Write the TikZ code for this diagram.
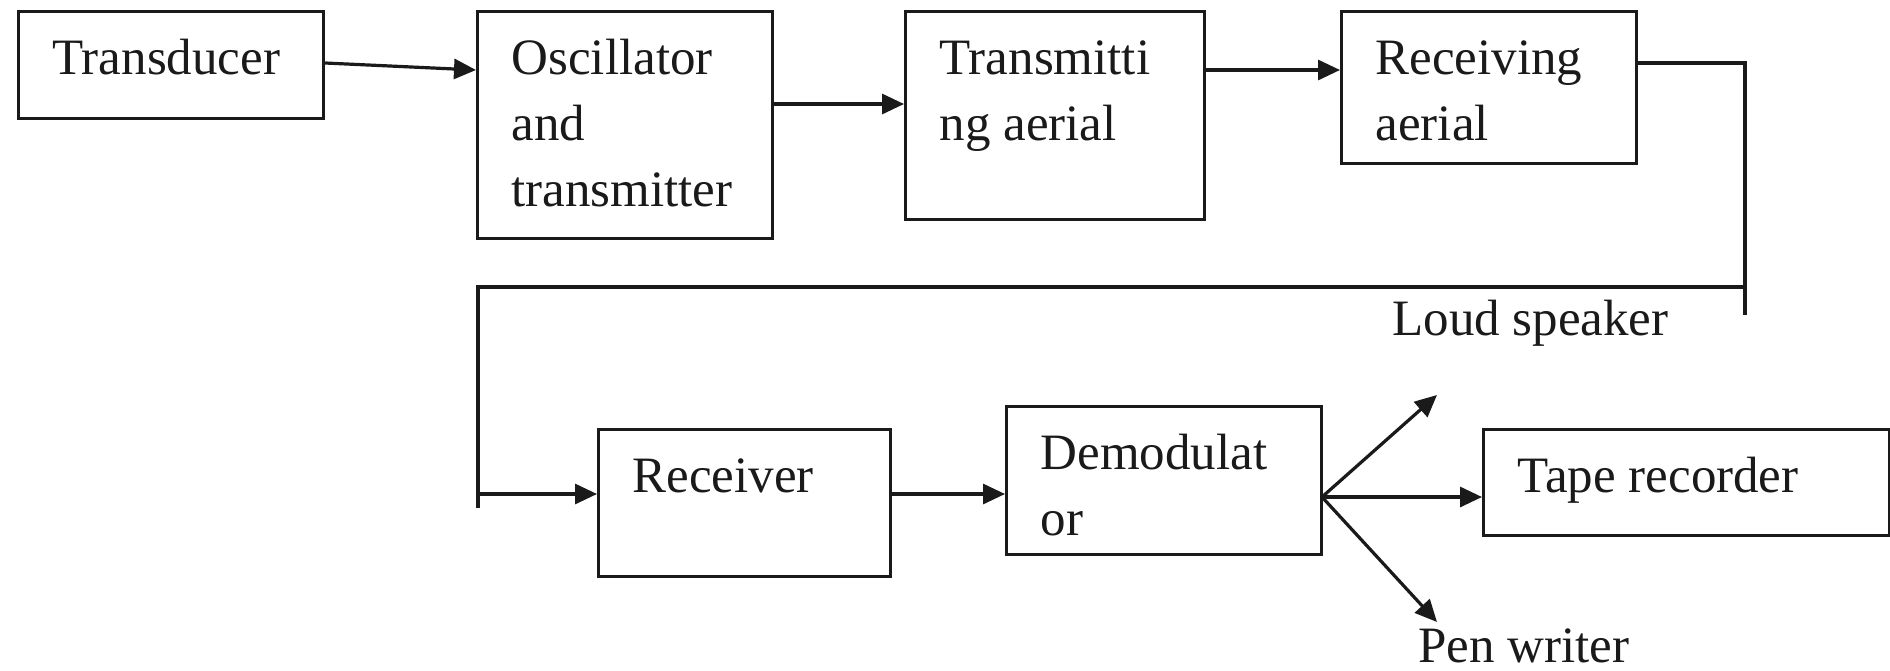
\documentclass[tikz,border=0pt]{standalone}
\usepackage{fontspec}
\setmainfont{Liberation Serif}
\usetikzlibrary{arrows.meta,calc}
\definecolor{ink}{HTML}{1A1A1A}

% block label: fixed-size box, text set from the top-left corner
\newcommand\blocktext[3]{\parbox[c][#1][t]{#2}{\vspace*{8.5pt}\raggedright\leftskip=17pt\strut#3}}

\begin{document}
\begin{tikzpicture}[x=0.5pt,y=-0.5pt,
  font=\fontsize{25.5}{33}\selectfont,
  blk/.style={draw=ink, line width=1.6pt, inner sep=0pt, anchor=north west, text=ink},
  wire/.style={draw=ink, line width=1.6pt},
  arr/.style={wire, -{Triangle[length=11pt,width=10pt]}},
  lbl/.style={anchor=base west, inner sep=0pt, text=ink}]

\path[fill=white] (0,0) rectangle (1890,670);
\useasboundingbox (0,0) rectangle (1890,670);

% transmitting chain
\node[blk] (tdx) at (17,10) {\blocktext{53.5pt}{152.5pt}{Transducer}};
\node[blk] (osc) at (476,10) {\blocktext{113.5pt}{147.5pt}{Oscillator\\and\\transmitter}};
\node[blk] (txa) at (904,10) {\blocktext{104pt}{149.5pt}{Transmitti\\ng aerial}};
\node[blk] (rxa) at (1340,10) {\blocktext{76pt}{147.5pt}{Receiving\\aerial}};

% receiving chain
\node[blk] (rcv) at (597,428) {\blocktext{73.5pt}{146pt}{Receiver}};
\node[blk] (dem) at (1005,405) {\blocktext{74pt}{157.5pt}{Demodulat\\or}};
\node[blk] (tape) at (1482,428) {\blocktext{53pt}{203pt}{Tape recorder}};

% free labels
\node[lbl] (lsp) at (1392,335) {Loud speaker};
\node[lbl, text depth=0pt] (pen) at (1418,662) {Pen writer};

% connectors, top row
\draw[arr] ($(tdx.north east)+(0,53)$) -- ($(osc.north west)+(0,60)$);
\draw[arr] ($(osc.north east)+(0,94)$) -- ($(txa.north west)+(0,94)$);
\draw[arr] ($(txa.north east)+(0,60)$) -- ($(rxa.north west)+(0,60)$);

% link from the receiving aerial down to the receiver
\coordinate (c1) at (1745,63);
\coordinate (c2) at (1745,315);
\coordinate (c3) at (1745,287);
\coordinate (c4) at (478,287);
\coordinate (c5) at (478,508);
\coordinate (c6) at (478,494);
\draw[wire] ($(rxa.north east)+(0,53)$) -- (c1) -- (c2);
\draw[wire] (c3) -- (c4) -- (c5);
\draw[arr] (c6) -- (rcv.west |- c6);

% bottom row
\draw[arr] ($(rcv.north east)+(0,66)$) -- ($(dem.north west)+(0,89)$);
\coordinate (fork) at (1322,497);
\coordinate (lsTip) at (1437,395);
\coordinate (pwTip) at (1437,622);
\draw[arr] (fork) -- (lsTip);
\draw[arr] (fork) -- (fork -| tape.west);
\draw[arr] (fork) -- (pwTip);
\end{tikzpicture}
\end{document}
